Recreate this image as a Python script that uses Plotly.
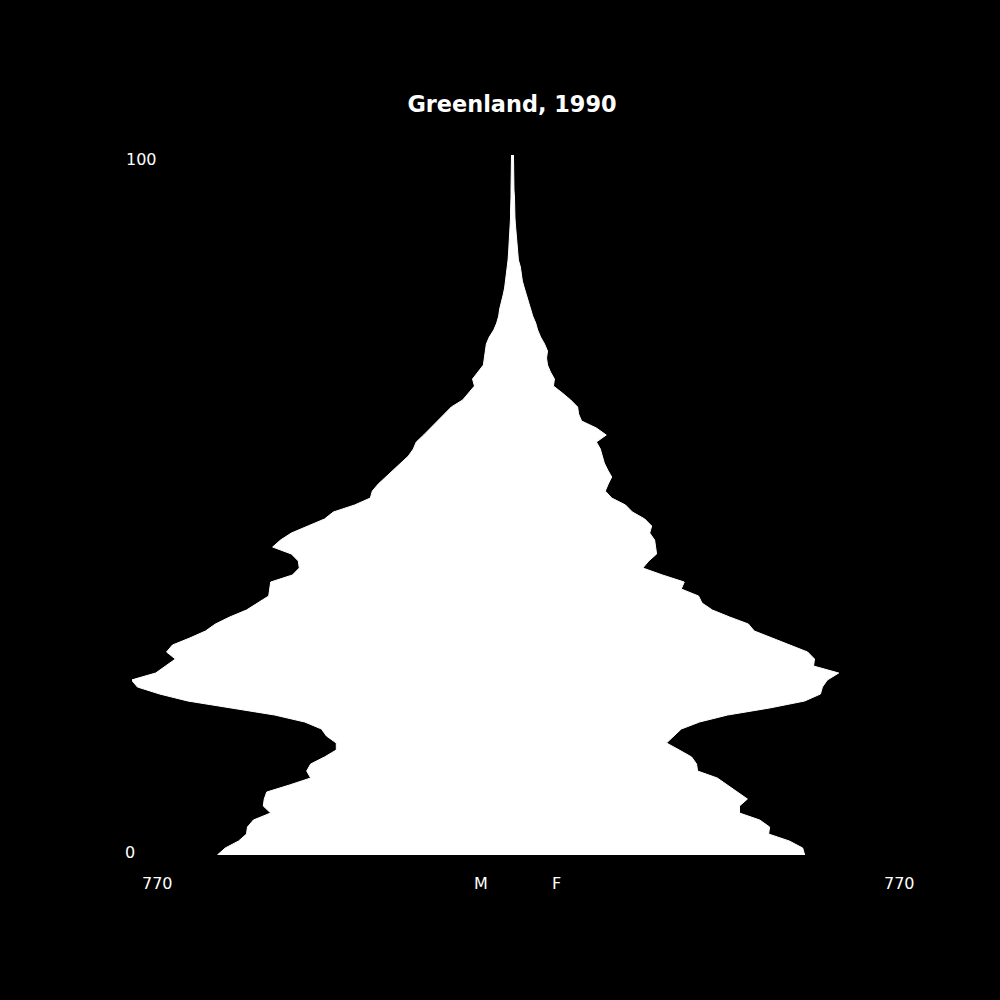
import plotly.graph_objects as go

# Greenland population by single year of age, 1990
ages = list(range(0, 101))

male = [597, 581, 554, 538, 536, 524, 489, 504, 502, 497,
        451, 408, 416, 408, 380, 356, 356, 376, 386, 420,
        481, 572, 657, 714, 759, 771, 722, 702, 682, 700,
        688, 653, 621, 601, 572, 538, 516, 493, 491, 489,
        445, 431, 433, 447, 485, 469, 447, 414, 380, 362,
        319, 287, 283, 271, 256, 242, 226, 210, 200, 194,
        179, 165, 151, 137, 123, 100, 88, 76, 80, 68,
        58, 56, 54, 52, 46, 37, 31, 27, 25, 21,
        18, 15, 13, 12, 10, 8, 7, 6, 5, 5,
        4, 3, 3, 2, 2, 2, 2, 2, 1, 1, 1]

female = [593, 589, 562, 520, 522, 502, 461, 461, 477, 457,
          437, 416, 376, 374, 364, 339, 313, 327, 343, 380,
          437, 522, 593, 625, 629, 639, 662, 611, 613, 599,
          562, 526, 491, 479, 441, 406, 385, 378, 343, 349,
          305, 265, 277, 293, 291, 289, 279, 283, 269, 244,
          230, 202, 189, 195, 202, 194, 187, 183, 179, 171,
          191, 171, 141, 135, 133, 119, 102, 84, 86, 78,
          72, 70, 72, 66, 58, 52, 48, 42, 37, 33,
          29, 25, 21, 19, 17, 13, 12, 11, 9, 8,
          7, 6, 6, 5, 5, 4, 4, 4, 4, 3, 3]

x_max = 770

# outline: male side going up, female side coming back down
xs = [-v for v in male] + female[::-1]
ys = ages + ages[::-1]

fig = go.Figure()
fig.add_trace(go.Scatter(
    x=xs, y=ys,
    mode="lines",
    fill="toself",
    fillcolor="white",
    line=dict(color="white", width=1),
    hoverinfo="skip",
    showlegend=False,
))

lab = dict(family="DejaVu Sans", size=16, color="white")
notes = [
    ("100", 0.012, 0.993),
    ("0", -0.003, 0.003),
    (str(x_max), 0.033, -0.041),
    (str(x_max), 1.0105, -0.041),
    ("M", 0.459, -0.041),
    ("F", 0.558, -0.041),
]
for txt, px, py in notes:
    fig.add_annotation(text=txt, x=px, y=py, xref="paper", yref="paper",
                       xanchor="center", yanchor="middle", showarrow=False, font=lab)

fig.update_layout(
    width=1000, height=1000,
    paper_bgcolor="black", plot_bgcolor="black",
    margin=dict(l=132, r=108, t=155, b=145),
    title=dict(text="Greenland, 1990", x=0.512, xanchor="center",
               y=0.896, yanchor="middle",
               font=dict(family="DejaVu Sans", size=22.4, color="white", weight="bold")),
    xaxis=dict(range=[-x_max, x_max], visible=False),
    yaxis=dict(range=[0, 100], visible=False),
)

# page margin off so the black figure fills the window
fig.write_html("out.html",
               config={"displayModeBar": False},
               post_script="document.body.style.margin='0';document.body.style.background='black';")
